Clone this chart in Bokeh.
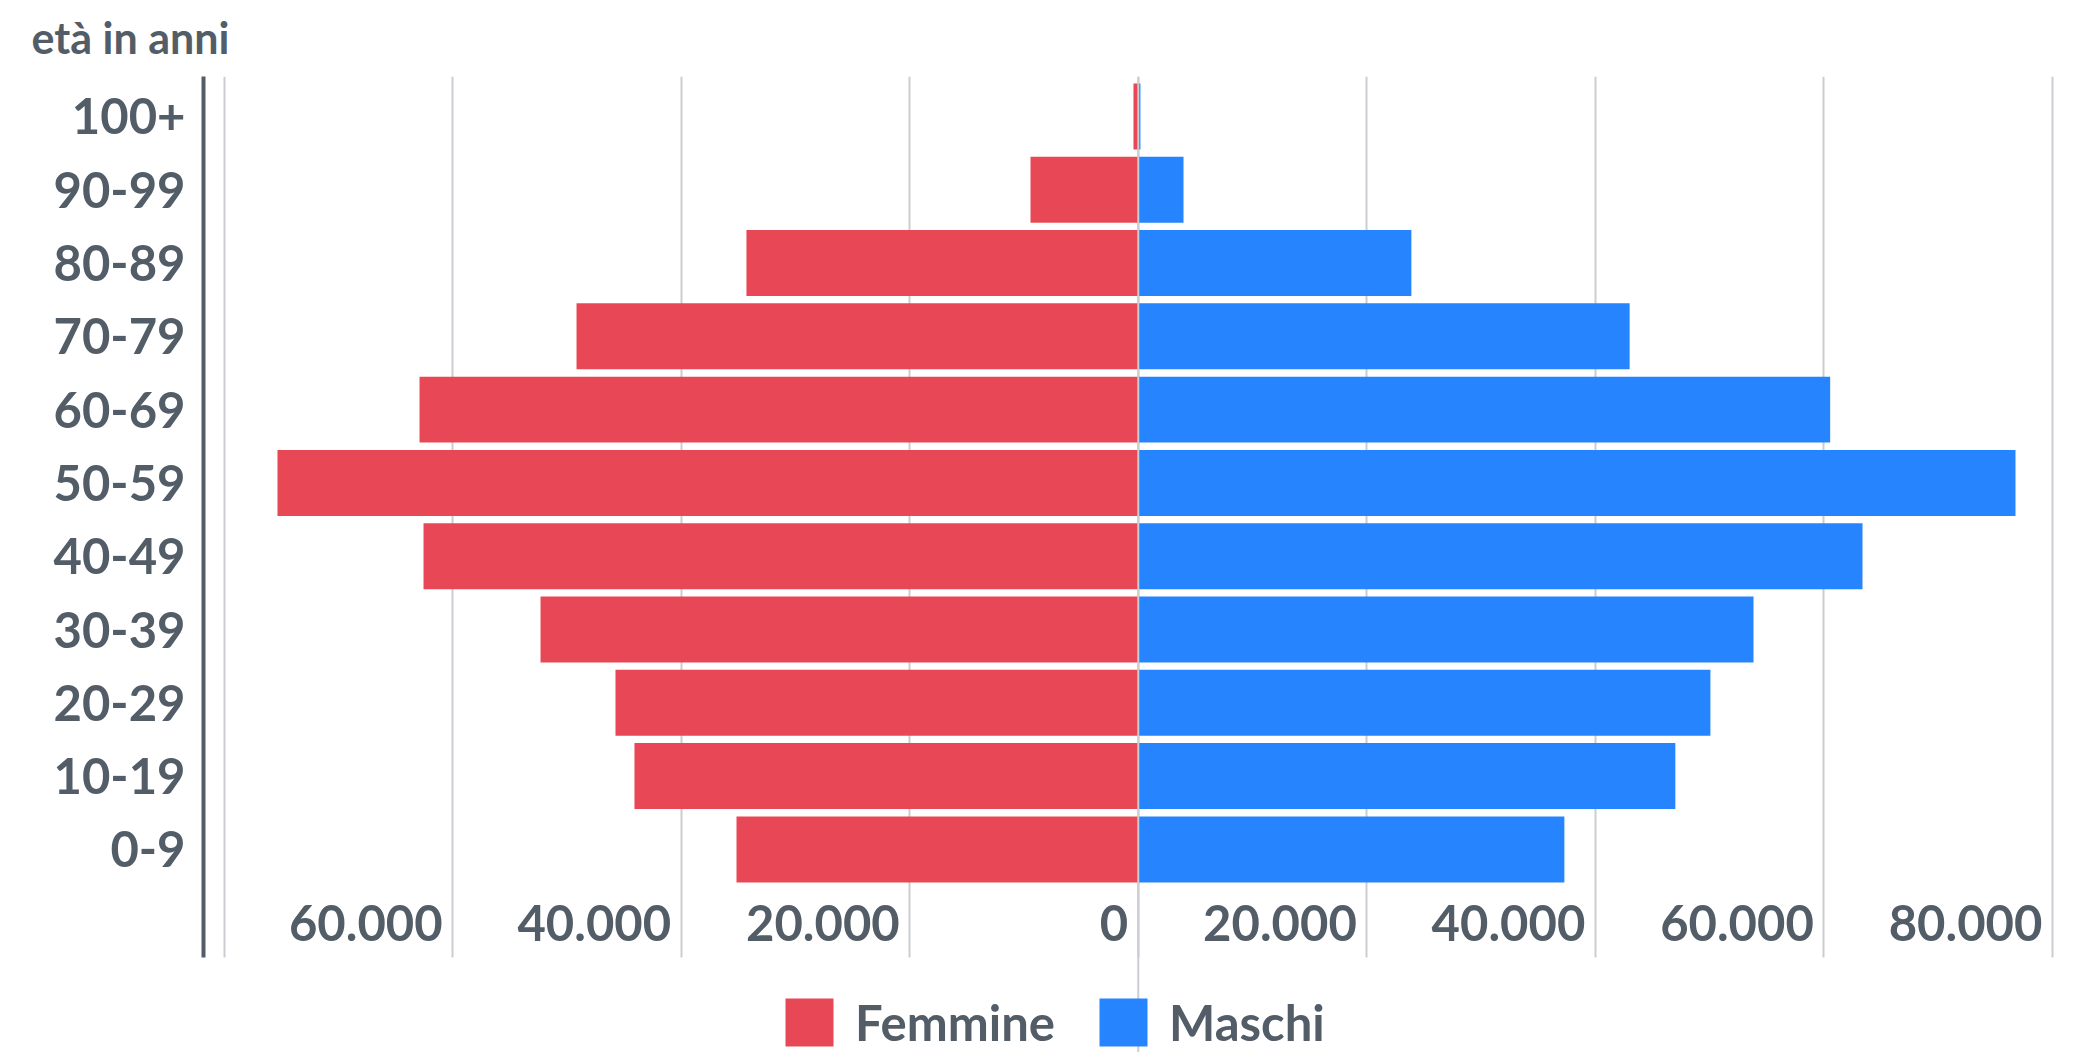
from bokeh.plotting import figure
from bokeh.models import (ColumnDataSource, FixedTicker, Span, LabelSet,
                          Range1d, Legend, LegendItem)
from bokeh.core.properties import value
from bokeh.embed import file_html
from bokeh.resources import INLINE

# Age groups, youngest first
age_groups = ["0-9", "10-19", "20-29", "30-39", "40-49", "50-59",
              "60-69", "70-79", "80-89", "90-99", "100+"]
femmine = [35160, 44090, 45750, 52310, 62550, 75330, 62900, 49160, 34290, 9430, 420]
maschi = [37290, 47000, 50070, 53840, 63380, 76770, 60550, 43000, 23900, 3960, 190]

grid_ticks = [-80000, -60000, -40000, -20000, 0, 20000, 40000, 60000, 80000]
x_tick_values = [-60000, -40000, -20000, 0, 20000, 40000, 60000, 80000]
x_tick_labels = ["60.000", "40.000", "20.000", "0", "20.000", "40.000", "60.000", "80.000"]

FONT = "Lato"
TEXT = "#535d68"
GRID = "#cacdd1"
RED = "#e84855"
BLUE = "#2684fe"

W, H = 2085, 1052
FL, FR, FT = 203, 2055, 76

# vertical extent of the chart body (axis line and grid); the frame itself runs
# down to the bottom edge so the legend can sit inside it
Y_BODY = (-1.475, 10.545)
Y_FRAME = (-2.771, 10.545)

pos = list(range(len(age_groups)))
src = ColumnDataSource(dict(
    y=pos,
    f_left=[-v for v in femmine],
    m_right=maschi,
    zero=[0] * len(pos),
))

p = figure(width=W, height=H, output_backend="svg", toolbar_location=None,
           x_range=Range1d(-81805, 80270), y_range=Range1d(*Y_FRAME),
           x_axis_location=None,
           min_border_left=FL, min_border_right=W - FR,
           min_border_top=FT, min_border_bottom=0)
p.outline_line_color = None
p.background_fill_color = "white"
p.border_fill_color = "white"

# title over the age labels
p.title.text = "età in anni"
p.title.align = "left"
p.title.offset = 31 - FL
p.title.vertical_align = "top"
p.title.standoff = 23
p.title.text_font = FONT
p.title.text_font_style = "bold"
p.title.text_font_size = "43px"
p.title.text_color = TEXT

# vertical grid, limited to the chart body
p.xgrid.ticker = FixedTicker(ticks=grid_ticks)
p.xgrid.cross_bounds = Y_BODY
p.xgrid.grid_line_color = GRID
p.xgrid.grid_line_width = 2
p.ygrid.visible = False

rf = p.hbar(y="y", left="f_left", right="zero", height=0.9, source=src,
            fill_color=RED, line_color=None)
rm = p.hbar(y="y", left="zero", right="m_right", height=0.9, source=src,
            fill_color=BLUE, line_color=None)

# baseline at zero over the bars
p.add_layout(Span(location=0, dimension="height", line_color=GRID, line_width=2))

# age axis
ya = p.yaxis[0]
ya.bounds = Y_BODY
ya.ticker = FixedTicker(ticks=pos)
ya.major_label_overrides = {i: g for i, g in zip(pos, age_groups)}
ya.axis_line_color = TEXT
ya.axis_line_width = 4
ya.major_tick_line_color = None
ya.minor_tick_line_color = None
ya.major_label_standoff = 12
ya.major_label_text_font = FONT
ya.major_label_text_font_style = "bold"
ya.major_label_text_font_size = "49px"
ya.major_label_text_color = TEXT

# value labels along the bottom of the body, left of each grid line
xl_src = ColumnDataSource(dict(x=x_tick_values, text=x_tick_labels))
p.add_layout(LabelSet(x="x", y=112, y_units="screen", text="text", source=xl_src,
                      x_offset=-10, text_align="right", text_baseline="alphabetic",
                      text_font=value(FONT), text_font_style="bold",
                      text_font_size="49px", text_color=TEXT))

lg = Legend(items=[LegendItem(label="Femmine", renderers=[rf]),
                   LegendItem(label="Maschi", renderers=[rm])],
            orientation="horizontal", location=(785 - 6 - FL, 0),
            glyph_width=60, glyph_height=60, label_standoff=16, spacing=38,
            padding=0, margin=0, border_line_color=None,
            background_fill_alpha=0,
            label_text_font=FONT, label_text_font_size="49px",
            label_text_color=TEXT, label_text_font_style="bold")
p.add_layout(lg)

open("out.html", "w").write(file_html(p, INLINE))
